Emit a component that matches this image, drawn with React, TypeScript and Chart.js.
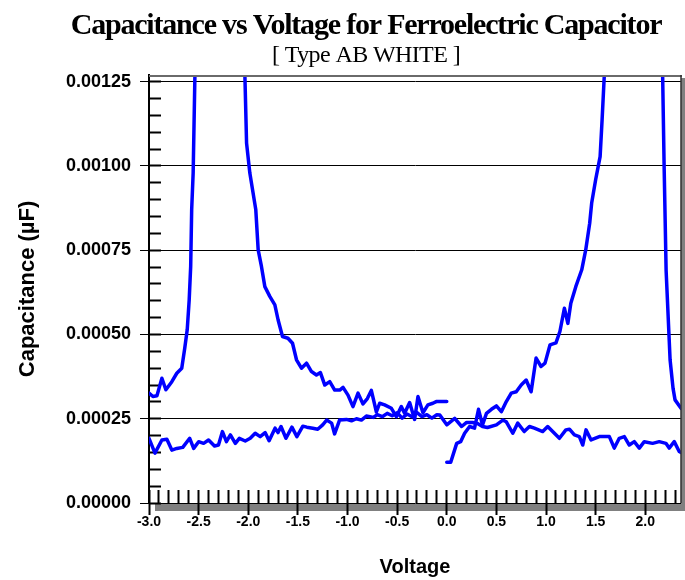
import { useEffect, useRef } from 'react';
import { Chart, registerables } from 'chart.js';

Chart.register(...registerables);

// ---- Data ----
// Left branch: sweep -3.0 V -> 0.0 V (peak runs off the top of the plot)
const leftVolts = [
  -3.0, -2.96, -2.92, -2.87, -2.83, -2.77, -2.72, -2.67, -2.64, -2.615, -2.595, -2.58,
  -2.57, -2.555, -2.53, -2.4, -2.2, -2.05, -2.017, -1.984, -1.924, -1.9, -1.867, -1.833,
  -1.783, -1.732, -1.699, -1.655, -1.6, -1.554, -1.514, -1.464, -1.413, -1.363, -1.313,
  -1.273, -1.229, -1.179, -1.129, -1.078, -1.045, -0.995, -0.945, -0.894, -0.844, -0.8,
  -0.76, -0.709, -0.676, -0.626, -0.558, -0.508, -0.458, -0.425, -0.374, -0.324, -0.29,
  -0.24, -0.19, -0.14, -0.106, -0.056, 0.0,
];
const leftCap = [
  0.000326, 0.000316, 0.000318, 0.00037, 0.000336, 0.00036, 0.000385, 0.0004, 0.000459,
  0.000514, 0.000603, 0.000702, 0.00087, 0.00098, 0.00139, 0.0035, 0.0036, 0.00146,
  0.001068, 0.000979, 0.00087, 0.000751, 0.000702, 0.000642, 0.000613, 0.000588, 0.000543,
  0.000494, 0.000489, 0.000474, 0.000425, 0.0004, 0.000415, 0.00039, 0.00038, 0.000387,
  0.00035, 0.00036, 0.000335, 0.000335, 0.000343, 0.00032, 0.000286, 0.000326, 0.000294,
  0.00031, 0.000334, 0.00027, 0.000296, 0.000291, 0.000281, 0.000256, 0.000286, 0.000266,
  0.000298, 0.000248, 0.000316, 0.000268, 0.000291, 0.000296, 0.000301, 0.000301, 0.000301,
];

// Right branch: sweep 0.0 V -> 2.36 V (peak runs off the top of the plot)
const rightVolts = [
  0.0, 0.04, 0.1, 0.14, 0.18, 0.23, 0.28, 0.32, 0.36, 0.4, 0.45, 0.5, 0.55, 0.6, 0.65, 0.7,
  0.75, 0.8, 0.85, 0.9, 0.95, 0.99, 1.04, 1.1, 1.14, 1.185, 1.22, 1.25, 1.3, 1.36, 1.4, 1.44,
  1.46, 1.5, 1.545, 1.565, 1.6, 1.7, 1.95, 2.15, 2.19, 2.21, 2.25, 2.28, 2.3, 2.36,
];
const rightCap = [
  0.000121, 0.000121, 0.000177, 0.000182, 0.000207, 0.000227, 0.000222, 0.000278, 0.000232,
  0.000266, 0.000278, 0.000288, 0.000271, 0.000301, 0.000326, 0.00033, 0.00035, 0.000365,
  0.00033, 0.00043, 0.000405, 0.000415, 0.000469, 0.000475, 0.000509, 0.000578, 0.000533,
  0.000593, 0.000642, 0.000692, 0.000751, 0.00083, 0.00089, 0.000959, 0.001028, 0.001137,
  0.001345, 0.0035, 0.004, 0.00172, 0.000999, 0.00069, 0.000425, 0.00034, 0.000306, 0.000281,
];

// Low branch: full sweep -3.0 V -> 2.36 V
const baseVolts = [
  -3.0, -2.94, -2.87, -2.82, -2.77, -2.72, -2.66, -2.59, -2.55, -2.5, -2.45, -2.4, -2.34,
  -2.3, -2.26, -2.22, -2.18, -2.13, -2.09, -2.03, -1.98, -1.93, -1.88, -1.83, -1.79, -1.73,
  -1.7, -1.67, -1.62, -1.56, -1.51, -1.45, -1.41, -1.35, -1.3, -1.25, -1.21, -1.16, -1.13,
  -1.08, -1.01, -0.96, -0.91, -0.86, -0.81, -0.74, -0.7, -0.65, -0.6, -0.55, -0.5, -0.45,
  -0.4, -0.35, -0.3, -0.25, -0.2, -0.15, -0.1, -0.07, 0.0, 0.08, 0.15, 0.2, 0.26, 0.31,
  0.36, 0.41, 0.5, 0.565, 0.6, 0.665, 0.715, 0.78, 0.833, 0.883, 0.967, 1.017, 1.067, 1.135,
  1.2, 1.236, 1.286, 1.336, 1.37, 1.403, 1.454, 1.537, 1.638, 1.688, 1.738, 1.789, 1.839,
  1.889, 1.94, 1.99, 2.074, 2.141, 2.208, 2.241, 2.292, 2.342, 2.36,
];
const baseCap = [
  0.000192, 0.000148, 0.000187, 0.000189, 0.000157, 0.000162, 0.000165, 0.000192, 0.000162,
  0.000182, 0.000177, 0.000187, 0.000169, 0.000172, 0.000212, 0.000182, 0.000202, 0.000177,
  0.000192, 0.000184, 0.000192, 0.000207, 0.000197, 0.000209, 0.000185, 0.000222, 0.000209,
  0.000227, 0.000192, 0.000225, 0.000197, 0.000228, 0.000225, 0.000222, 0.000219, 0.000232,
  0.000246, 0.000237, 0.000205, 0.000246, 0.000248, 0.000244, 0.00025, 0.000246, 0.000258,
  0.000254, 0.000262, 0.000256, 0.000266, 0.000259, 0.000268, 0.000252, 0.000264, 0.000256,
  0.000268, 0.000256, 0.000262, 0.000252, 0.000262, 0.000261, 0.000232, 0.000251, 0.000227,
  0.000239, 0.000239, 0.000236, 0.000227, 0.000224, 0.000232, 0.000246, 0.000241, 0.000207,
  0.000237, 0.000212, 0.000227, 0.000222, 0.000212, 0.000227, 0.000212, 0.000192, 0.000217,
  0.000219, 0.000202, 0.000197, 0.000172, 0.000217, 0.000187, 0.000197, 0.000197, 0.000163,
  0.000192, 0.000197, 0.000172, 0.000182, 0.000163, 0.000182, 0.000177, 0.000182, 0.000177,
  0.000163, 0.000182, 0.000153, 0.00015,
];

const X_MIN = -3.0;
const X_MAX = 2.36;
const Y_MIN = 0;
const Y_MAX = 0.00127;
const X_MAJOR_STEP = 0.5;
const X_MINOR_STEP = 0.1;
const Y_MAJOR_STEP = 0.00025;
const Y_MINOR_STEP = 0.00005;

const TITLE = 'Capacitance vs Voltage for Ferroelectric Capacitor';
const SUBTITLE = '[ Type AB WHITE ]';
const X_TITLE = 'Voltage';
const Y_TITLE = 'Capacitance (\u00b5F)';

const LINE_COLOR = '#0000ff';

function toPoints(xs: number[], ys: number[]) {
  return xs.map((x, i) => ({ x, y: ys[i] }));
}

// Centre the title block the way the reference does and tighten its letter spacing
const shiftTitles = {
  id: 'shiftTitles',
  afterLayout(chart: any) {
    const dx = 25.5;
    for (const box of chart.boxes) {
      if (box && box.options && typeof box.options.text === 'string' && box.position === 'top') {
        box.left += dx;
        box.right += dx;
        if (!box.__spaced) {
          const orig = box.draw;
          const spacing = box.options.text === TITLE ? '-1.2px' : '-0.6px';
          box.draw = function (...args: any[]) {
            const ctx = this.ctx || chart.ctx;
            ctx.save();
            try {
              (ctx as any).letterSpacing = spacing;
            } catch (e) {
              /* ignore */
            }
            orig.apply(this, args);
            ctx.restore();
          };
          box.__spaced = true;
        }
      }
    }
  },
};

const frame = {
  id: 'frame',
  beforeDraw(chart: any) {
    const { ctx, chartArea: a } = chart;
    ctx.save();
    ctx.fillStyle = '#808080';
    ctx.fillRect(a.right, a.top + 3, 5, a.bottom - a.top + 5);
    ctx.fillRect(a.left + 6, a.bottom + 1, a.right - a.left - 1, 7);
    ctx.restore();
  },
  afterDatasetsDraw(chart: any) {
    const { ctx, chartArea: a } = chart;
    ctx.save();
    ctx.strokeStyle = '#6a6a6a';
    ctx.lineWidth = 2;
    ctx.beginPath();
    ctx.moveTo(a.left, a.top + 1);
    ctx.lineTo(a.right + 1, a.top + 1);
    ctx.stroke();
    ctx.strokeStyle = '#303030';
    ctx.lineWidth = 1.5;
    ctx.beginPath();
    ctx.moveTo(a.right, a.top);
    ctx.lineTo(a.right, a.bottom);
    ctx.stroke();
    ctx.restore();
  },
};

export default function App() {
  const canvasRef = useRef<HTMLCanvasElement | null>(null);

  useEffect(() => {
    const canvas = canvasRef.current;
    if (!canvas) return;
    const lineStyle = {
      borderColor: LINE_COLOR,
      backgroundColor: LINE_COLOR,
      borderWidth: 3.5,
      pointRadius: 0,
      tension: 0,
      fill: false,
      borderJoinStyle: 'round' as const,
      borderCapStyle: 'round' as const,
      xAxisID: 'x',
      yAxisID: 'y',
    };
    const chart = new Chart(canvas, {
      type: 'line',
      data: {
        datasets: [
          { ...lineStyle, label: 'left', data: toPoints(leftVolts, leftCap) },
          { ...lineStyle, label: 'right', data: toPoints(rightVolts, rightCap) },
          { ...lineStyle, label: 'base', data: toPoints(baseVolts, baseCap) },
        ],
      },
      options: {
        animation: false,
        responsive: false,
        devicePixelRatio: 1,
        layout: { padding: { top: 0, right: 4, bottom: 0, left: 0 } },
        plugins: {
          legend: { display: false },
          tooltip: { enabled: false },
          title: {
            display: true,
            text: TITLE,
            color: '#000',
            font: { family: 'Liberation Serif', weight: 'bold', size: 30, lineHeight: 1 },
            padding: { top: 11, bottom: 0 },
          },
          subtitle: {
            display: true,
            text: SUBTITLE,
            color: '#000',
            font: { family: 'Liberation Serif', weight: 'normal', size: 24, lineHeight: 1 },
            padding: { top: 2.8, bottom: 7.2 },
          },
        },
        scales: {
          x: {
            type: 'linear',
            position: 'bottom',
            min: X_MIN,
            max: X_MAX,
            ticks: {
              stepSize: X_MAJOR_STEP,
              includeBounds: false,
              autoSkip: false,
              maxRotation: 0,
              color: '#000',
              padding: -1.4,
              font: { family: 'Liberation Sans', weight: 'bold', size: 14 },
              callback: (v: any) => Number(v).toFixed(1),
            },
            grid: {
              drawOnChartArea: false,
              drawTicks: true,
              tickLength: 12,
              tickColor: '#000',
              tickWidth: 2,
            },
            border: { display: false },
            title: {
              display: true,
              text: X_TITLE,
              color: '#000',
              font: { family: 'Liberation Sans', weight: 'bold', size: 20 },
              padding: { top: 0, bottom: 1 },
            },
            afterFit: (s: any) => {
              s.height = 77;
            },
          },
          y: {
            type: 'linear',
            position: 'left',
            min: Y_MIN,
            max: Y_MAX,
            ticks: {
              stepSize: Y_MAJOR_STEP,
              includeBounds: false,
              autoSkip: false,
              color: '#000',
              padding: 9,
              font: { family: 'Liberation Sans', weight: 'bold', size: 18 },
              callback: (v: any) => Number(v).toFixed(5),
            },
            grid: {
              drawOnChartArea: true,
              color: '#000',
              lineWidth: 1,
              tickLength: 9,
              tickColor: '#000',
              tickWidth: 1,
            },
            border: { display: true, color: '#000', width: 2 },
            title: {
              display: true,
              text: Y_TITLE,
              color: '#000',
              font: { family: 'Liberation Sans', weight: 'bold', size: 22 },
              padding: { top: 14.8, bottom: 0 },
            },
            afterFit: (s: any) => {
              s.width = 149;
            },
          },
          xMinor: {
            type: 'linear',
            axis: 'x',
            position: { y: 0 },
            min: X_MIN,
            max: X_MAX,
            ticks: { display: false, stepSize: X_MINOR_STEP, includeBounds: false, autoSkip: false },
            grid: {
              drawOnChartArea: false,
              drawTicks: true,
              tickLength: -13,
              tickColor: '#000',
              tickWidth: 2,
            },
            border: { display: false },
          },
          yMinor: {
            type: 'linear',
            axis: 'y',
            position: { x: X_MIN },
            min: Y_MIN,
            max: Y_MAX,
            ticks: { display: false, stepSize: Y_MINOR_STEP, includeBounds: false, autoSkip: false },
            grid: {
              drawOnChartArea: false,
              drawTicks: true,
              tickLength: -12,
              tickColor: '#000',
              tickWidth: 2,
            },
            border: { display: false },
          },
        } as any,
      },
      plugins: [shiftTitles, frame],
    } as any);
    return () => chart.destroy();
  }, []);

  return (
    <div style={{ position: 'fixed', left: 0, top: 0, width: 685, height: 580 }}>
      <canvas ref={canvasRef} width={685} height={580} style={{ display: 'block' }} />
    </div>
  );
}
